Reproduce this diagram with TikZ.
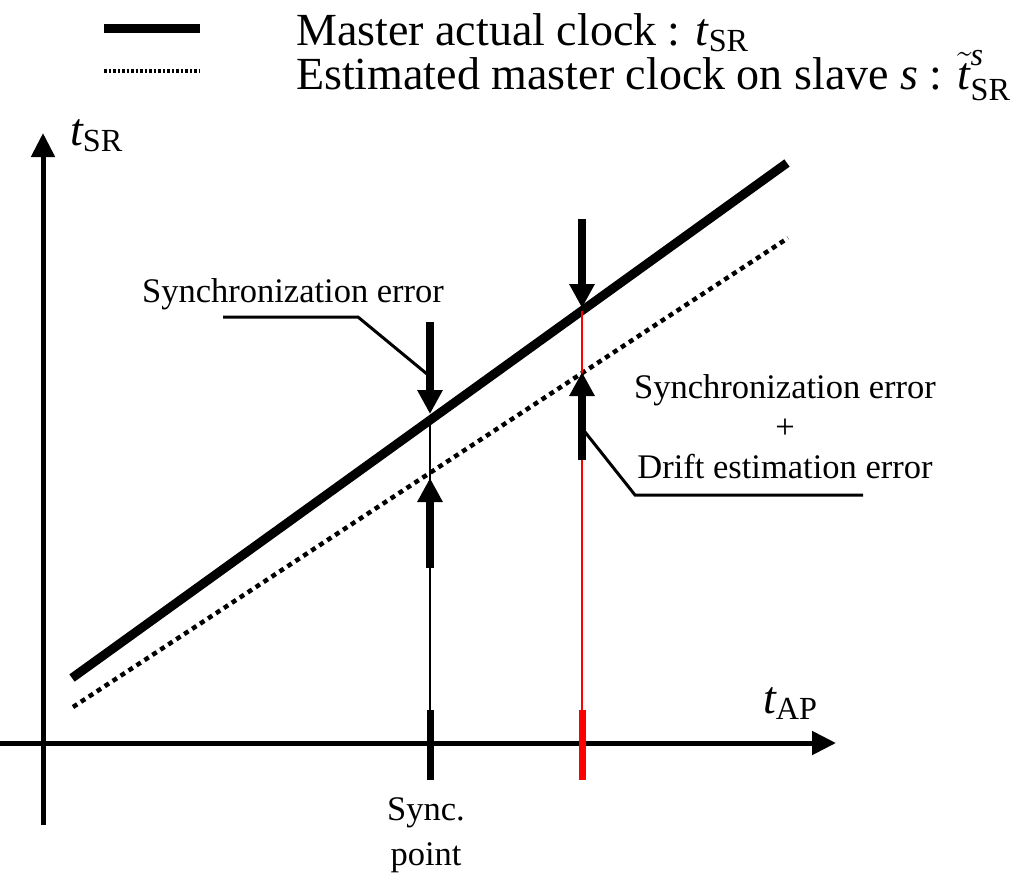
\documentclass[tikz,border=0pt]{standalone}
\usepackage{fix-cm}
\usepackage{amsmath}
\usepackage[no-math]{fontspec}
\setmainfont{Liberation Serif}
\usetikzlibrary{arrows.meta}
\newcommand{\tvar}{\text{\itshape t}}
\begin{document}
\begin{tikzpicture}[x=1pt,y=-1pt,
  axis/.style={line width=5pt, -{Triangle[width=23pt,length=24pt]}},
  master/.style={line width=9pt},
  est/.style={line width=4.5pt, dash pattern=on 5pt off 4.5pt},
  errarrow/.style={line width=8pt, -{Triangle[width=24pt,length=24pt]}},
  tickmark/.style={line width=7pt},
  guide/.style={line width=2pt},
  leader/.style={line width=3pt},
  lbl/.style={font=\fontsize{34.5}{40}\selectfont, inner sep=0pt, anchor=base},
  leg/.style={font=\fontsize{46}{50}\selectfont, inner sep=0pt, anchor=base west},
]
\useasboundingbox (0,0) rectangle (1027,876);
% axes
\coordinate (ybot) at (43,825);
\coordinate (ytop) at (43,133);
\coordinate (xleft) at (0,743);
\coordinate (xright) at (836,743);
\draw[axis] (ybot) -- (ytop);
\draw[axis] (xleft) -- (xright);
\node[leg] (tsr) at (70,145) {$\tvar_{\text{SR}}$};
\node[leg] (tap) at (763,713) {$\tvar_{\text{AP}}$};
% clock lines
\coordinate (m1) at (72,678);
\coordinate (m2) at (787,163);
\coordinate (e1) at (73,707);
\coordinate (e2) at (788,238);
\draw[master] (m1) -- (m2);
\draw[est] (e1) -- (e2);
% sync point
\coordinate (sA) at (430,420);
\coordinate (sB) at (430,743);
\coordinate (sT1) at (430,710);
\coordinate (sT2) at (430,780);
\draw[guide] (sA) -- (sB);
\draw[tickmark] (sT1) -- (sT2);
% later point (red)
\coordinate (rA) at (582,311);
\coordinate (rB) at (582,743);
\coordinate (rT1) at (582,710);
\coordinate (rT2) at (582,780);
\draw[guide, red, line width=2.5pt] (rA) -- (rB);
\draw[tickmark, red] (rT1) -- (rT2);
% error arrows
\coordinate (a1s) at (430,322); \coordinate (a1e) at (430,414);
\coordinate (a2s) at (430,568); \coordinate (a2e) at (430,478);
\coordinate (a3s) at (582,219); \coordinate (a3e) at (582,308);
\coordinate (a4s) at (582,460); \coordinate (a4e) at (582,372);
\draw[errarrow] (a1s) -- (a1e);
\draw[errarrow] (a2s) -- (a2e);
\draw[errarrow] (a3s) -- (a3e);
\draw[errarrow] (a4s) -- (a4e);
% labels
\node[lbl] (se1) at (293,302) {Synchronization error};
\node[lbl] (se2) at (785,398) {Synchronization error};
\node[lbl] (plus) at (785,438) {+};
\node[lbl] (de) at (785,478) {Drift estimation error};
\node[lbl] (sync) at (426,820) {Sync.};
\node[lbl] (pt) at (426,865) {point};
% leaders
\coordinate (L1a) at (223,317); \coordinate (L1b) at (358,317); \coordinate (L1c) at (427,374);
\draw[leader] (L1a) -- (L1b) -- (L1c);
\coordinate (L2a) at (585,432); \coordinate (L2b) at (635,495); \coordinate (L2c) at (863,495);
\draw[leader] (L2a) -- (L2b) -- (L2c);
% legend
\coordinate (g1a) at (104,28); \coordinate (g1b) at (200,28);
\coordinate (g2a) at (104,71); \coordinate (g2b) at (200,71);
\draw[line width=9pt] (g1a) -- (g1b);
\draw[line width=3.5pt, dash pattern=on 2.5pt off 2pt] (g2a) -- (g2b);
\node[leg] (l1) at (296,45) {Master actual clock : $\tvar_{\text{SR}}$};
\node[leg] (l2) at (296,89) {Estimated master clock on slave \textit{s} : $\tilde{\tvar}^{\text{\itshape s}}_{\text{SR}}$};
\end{tikzpicture}
\end{document}
